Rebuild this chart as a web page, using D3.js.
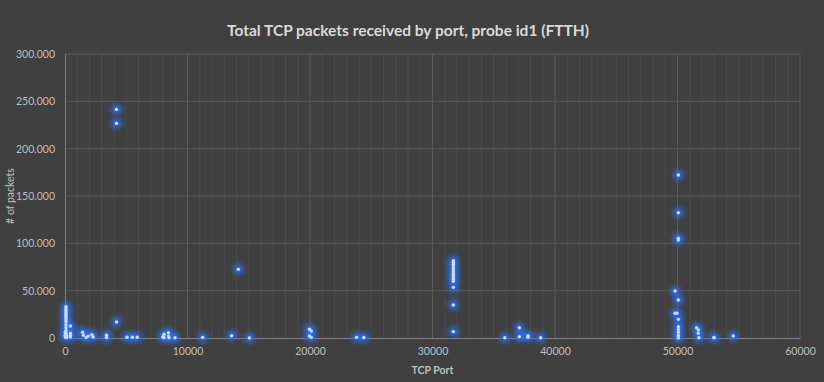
<!DOCTYPE html>
<html>
<head>
<meta charset="utf-8">
<title>Total TCP packets received by port</title>
<style>
  body { margin: 0; background: #404040; }
  svg { display: block; }
</style>
</head>
<body>
<script src="https://cdn.jsdelivr.net/npm/d3@7/dist/d3.min.js"></script>
<script>
// values (port, packets)
var ports = [
  80, 80, 80, 80, 80, 80, 80, 80, 80, 80, 80, 80, 80, 80, 80,
  21, 22, 25, 53, 110, 143,
  443, 443, 443, 443,
  1433, 1500, 1723, 1900, 2200, 2300, 3389, 3389,
  4200, 4200, 4200,
  5060, 5500, 5900,
  8000, 8000, 8080, 8080, 8443, 8443, 8500, 8980,
  11240, 13600, 14150, 15050,
  19950, 19950, 20100, 20100,
  23800, 24400,
  31700, 31700, 31700, 31700, 31700, 31700, 31700, 31700, 31700, 31700, 31700, 31700, 31700, 31700, 31700,
  35900, 37090, 37090, 37800, 37800, 37800, 38830,
  50070, 50070, 50070, 50070, 50070, 50070, 50070, 50070, 50070, 50070, 50070, 50070,
  49800, 49800, 49950,
  51560, 51700, 51700, 51750,
  52980, 52980, 54550
];
var packets = [
  33000, 31000, 29000, 27000, 25000, 23000, 21000, 19000, 17000, 14000, 11000, 8000, 5000, 2000, 500,
  3000, 6000, 1000, 4000, 2500, 800,
  12600, 5000, 3000, 1000,
  6000, 3000, 500, 2000, 3500, 1000, 3000, 500,
  241500, 226700, 16900,
  800, 800, 800,
  1500, 800, 4000, 300, 5600, 2000, 200, 300,
  700, 2400, 72500, 100,
  9200, 2100, 7400, 700,
  700, 500,
  81600, 80000, 78000, 76000, 74000, 72000, 70000, 68000, 66000, 64000, 62000, 60000, 53500, 34800, 6700,
  300, 10900, 1400, 2500, 1500, 800, 300,
  172200, 132300, 105300, 103500, 40100, 19700, 12000, 9000, 6000, 3000, 1000, 0,
  49600, 26100, 26100,
  10900, 8400, 4900, 300,
  300, 600, 2100
];
var xTicks = [0, 10000, 20000, 30000, 40000, 50000, 60000];
var yTicks = [0, 50000, 100000, 150000, 200000, 250000, 300000];

var width = 824, height = 382;
var plotLeft = 65, plotRight = 800, plotTop = 54, plotBottom = 338;

var x = d3.scaleLinear().domain([0, 60000]).range([plotLeft, plotRight]);
var y = d3.scaleLinear().domain([0, 300000]).range([plotBottom, plotTop]);

var svg = d3.select("body").append("svg")
    .attr("width", width)
    .attr("height", height);

svg.append("rect")
    .attr("width", width)
    .attr("height", height)
    .attr("fill", "#404040");

// glow for the markers
var defs = svg.append("defs");
var f = defs.append("filter").attr("id", "glow")
    .attr("x", "-200%").attr("y", "-200%").attr("width", "500%").attr("height", "500%");
f.append("feGaussianBlur").attr("stdDeviation", 2.6);

// minor vertical grid every 1000
svg.append("g")
    .selectAll("line")
    .data(d3.range(1000, 60000, 1000).filter(d => d % 10000 != 0))
    .join("line")
    .attr("x1", d => x(d)).attr("x2", d => x(d))
    .attr("y1", plotTop).attr("y2", plotBottom)
    .attr("stroke", "#4b4b4b")
    .attr("stroke-width", 1);

// major grid
svg.append("g")
    .selectAll("line")
    .data(xTicks.slice(1))
    .join("line")
    .attr("x1", d => x(d)).attr("x2", d => x(d))
    .attr("y1", plotTop).attr("y2", plotBottom)
    .attr("stroke", "#5a5a5a");

svg.append("g")
    .selectAll("line")
    .data(yTicks.slice(1))
    .join("line")
    .attr("x1", plotLeft).attr("x2", plotRight)
    .attr("y1", d => y(d)).attr("y2", d => y(d))
    .attr("stroke", "#5a5a5a");

// axes
var xAxis = svg.append("g")
    .attr("transform", `translate(0,${plotBottom})`)
    .call(d3.axisBottom(x).tickValues(xTicks).tickSize(0).tickPadding(10).tickFormat(d3.format("d")));
var yAxis = svg.append("g")
    .attr("transform", `translate(${plotLeft},0)`)
    .call(d3.axisLeft(y).tickValues(yTicks).tickSize(0).tickPadding(10)
        .tickFormat(d => d3.format(",")(d).replace(/,/g, ".")));

[xAxis, yAxis].forEach(a => {
    a.select(".domain").attr("stroke", "#808080");
    a.selectAll("text")
        .attr("fill", "#bfbfbf")
        .attr("font-family", "Lato, 'Open Sans', sans-serif")
        .attr("font-size", 10.5);
});

// points
var pts = ports.map((p, i) => ({ port: p, n: packets[i] }));

svg.append("g")
    .attr("filter", "url(#glow)")
    .selectAll("circle")
    .data(pts)
    .join("circle")
    .attr("cx", d => x(d.port))
    .attr("cy", d => y(d.n))
    .attr("r", 5)
    .attr("fill", "#2b6ff0")
    .attr("fill-opacity", 0.9);

svg.append("g")
    .selectAll("circle")
    .data(pts)
    .join("circle")
    .attr("cx", d => x(d.port))
    .attr("cy", d => y(d.n))
    .attr("r", 1.7)
    .attr("fill", "#c9dcff");

// titles
svg.append("text")
    .attr("x", 408)
    .attr("y", 36)
    .attr("text-anchor", "middle")
    .attr("fill", "#d9d9d9")
    .attr("font-family", "Lato, 'Open Sans', sans-serif")
    .attr("font-weight", "bold")
    .attr("font-size", 15.5)
    .text("Total TCP packets received by port, probe id1 (FTTH)");

svg.append("text")
    .attr("x", (plotLeft + plotRight) / 2)
    .attr("y", 374)
    .attr("text-anchor", "middle")
    .attr("fill", "#bfbfbf")
    .attr("font-family", "Lato, 'Open Sans', sans-serif")
    .attr("font-weight", "bold")
    .attr("font-size", 10.5)
    .text("TCP Port");

svg.append("text")
    .attr("transform", `translate(14,${(plotTop + plotBottom) / 2}) rotate(-90)`)
    .attr("text-anchor", "middle")
    .attr("fill", "#bfbfbf")
    .attr("font-family", "Lato, 'Open Sans', sans-serif")
    .attr("font-size", 10.5)
    .text("# of packets");
</script>
</body>
</html>
